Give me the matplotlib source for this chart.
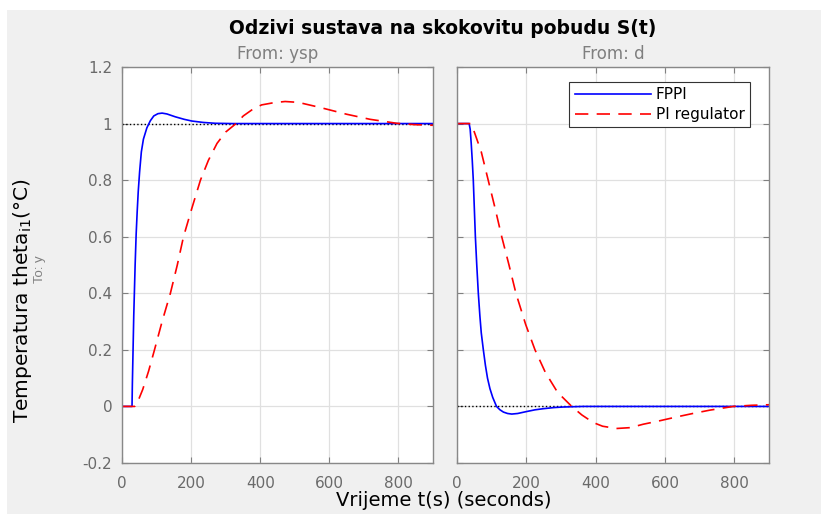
import matplotlib
matplotlib.use('Agg')
import matplotlib.pyplot as plt
from matplotlib.patches import Rectangle

plt.rcParams['font.family'] = ['DejaVu Sans']

# Setpoint step (From: ysp)
t_sp_fppi = [0, 29, 30, 32, 34, 36, 38, 41, 44, 47, 51, 56, 62, 72, 82, 92, 104, 116,
             130, 154, 180, 202, 235, 270, 320, 900]
y_sp_fppi = [0, 0, 0.08, 0.2, 0.32, 0.41, 0.5, 0.61, 0.69, 0.76, 0.83, 0.9, 0.945, 0.985,
             1.01, 1.027, 1.035, 1.037, 1.034, 1.024, 1.015, 1.009, 1.004, 1.001, 1.0, 1.0]
t_sp_pi = [0, 37, 45, 60, 77, 94, 116, 140, 160, 178, 202, 227, 250, 275, 300, 330, 351,
           380, 404, 440, 472, 510, 573, 650, 718, 795, 850, 900]
y_sp_pi = [0, 0, 0.015, 0.06, 0.125, 0.2, 0.3, 0.4, 0.5, 0.6, 0.7, 0.8, 0.87, 0.93, 0.97,
           1.0, 1.027, 1.052, 1.066, 1.074, 1.078, 1.075, 1.057, 1.033, 1.015, 1.001,
           0.996, 0.994]

# Disturbance step (From: d)
t_d_fppi = [0, 35, 38, 41, 44, 47, 50, 53, 57, 61.5, 66, 70, 76, 82, 88, 95, 103, 114,
            124, 134, 146, 158, 175, 201, 225, 249, 280, 307, 364, 900]
y_d_fppi = [1, 1, 0.98, 0.93, 0.87, 0.8, 0.7, 0.6, 0.5, 0.4, 0.32, 0.26, 0.2, 0.145,
            0.1, 0.063, 0.032, 0.0, -0.012, -0.02, -0.025, -0.027, -0.025, -0.018,
            -0.012, -0.008, -0.004, -0.002, 0, 0]
t_d_pi = [0, 39, 50, 70, 90, 110, 129, 150, 170, 198, 225, 255, 290, 331, 360, 393, 420,
          460, 500, 537, 580, 634, 680, 730, 797, 850, 900]
y_d_pi = [1, 1, 0.97, 0.9, 0.8, 0.7, 0.6, 0.5, 0.4, 0.29, 0.2, 0.12, 0.05, 0.0, -0.03,
          -0.057, -0.07, -0.078, -0.075, -0.063, -0.052, -0.037, -0.025, -0.013, 0.0,
          0.004, 0.006]

xticks = [0, 200, 400, 600, 800]
yticks = [-0.2, 0, 0.2, 0.4, 0.6, 0.8, 1.0, 1.2]
ytick_labels = ['-0.2', '0', '0.2', '0.4', '0.6', '0.8', '1', '1.2']

W, H = 821, 514
fig = plt.figure(figsize=(W / 100, H / 100), dpi=100, facecolor='white')
fig.patches.append(Rectangle((7 / W, 0), 1 - 7 / W, 1 - 10 / H, transform=fig.transFigure,
                             facecolor='#f0f0f0', edgecolor='none', zorder=-10))

ax1 = fig.add_axes([122 / W, 1 - 463 / H, 311 / W, 396 / H])
ax2 = fig.add_axes([457 / W, 1 - 463 / H, 312 / W, 396 / H])

dash = (0, (8, 5))
for ax, title in [(ax1, 'From: ysp'), (ax2, 'From: d')]:
    ax.set_xlim(0, 900)
    ax.set_ylim(-0.2, 1.2)
    ax.set_xticks(xticks)
    ax.set_yticks(yticks)
    ax.grid(True, color='#e0e0e0', linewidth=0.9)
    ax.set_axisbelow(True)
    ax.tick_params(direction='in', length=4, top=True, right=True, colors='#808080',
                   labelcolor='#6a6a6a', labelsize=11, width=0.8)
    ax.tick_params(axis='x', pad=9)
    ax.tick_params(axis='y', pad=7)
    for s in ax.spines.values():
        s.set_color('#888888')
        s.set_linewidth(1.0)
    ax.set_title(title, fontsize=12, color='#7f7f7f', pad=6)

ax1.set_yticklabels(ytick_labels)
ax2.set_yticklabels([])

ax1.plot([0, 900], [1, 1], 'k:', linewidth=1.0)
ax2.plot([0, 900], [0, 0], 'k:', linewidth=1.0)

ax1.plot(t_sp_fppi, y_sp_fppi, color='blue', linewidth=1.2)
ax1.plot(t_sp_pi, y_sp_pi, color='red', linestyle=dash, linewidth=1.2)
l1, = ax2.plot(t_d_fppi, y_d_fppi, color='blue', linewidth=1.2)
l2, = ax2.plot(t_d_pi, y_d_pi, color='red', linestyle=dash, linewidth=1.2)

leg = ax2.legend([l1, l2], ['FPPI', 'PI regulator'], loc='upper right', fontsize=11,
                 fancybox=False, framealpha=1, edgecolor='#333333', borderaxespad=0,
                 bbox_to_anchor=(0.939, 0.962), handlelength=5.0, handletextpad=0.3,
                 labelspacing=0.3, borderpad=0.35)
leg.get_frame().set_linewidth(0.8)

fig.text(443 / W, 1 - 28 / H, 'Odzivi sustava na skokovitu pobudu S(t)', ha='center',
         va='center', fontsize=13.5, fontweight='bold')
fig.text(444 / W, 1 - 501 / H, 'Vrijeme t(s) (seconds)', ha='center', va='center',
         fontsize=14)
fig.text(22 / W, 1 - 301 / H, r'Temperatura theta$_{\mathregular{i1}}$(°C)', ha='center',
         va='center', rotation=90, fontsize=14.5)
fig.text(40 / W, 1 - 269 / H, 'To: y', ha='center', va='center', rotation=90,
         fontsize=9.5, color='#7f7f7f', family=['Liberation Sans', 'DejaVu Sans'])

fig.savefig('out.png', dpi=100, facecolor=fig.get_facecolor())
